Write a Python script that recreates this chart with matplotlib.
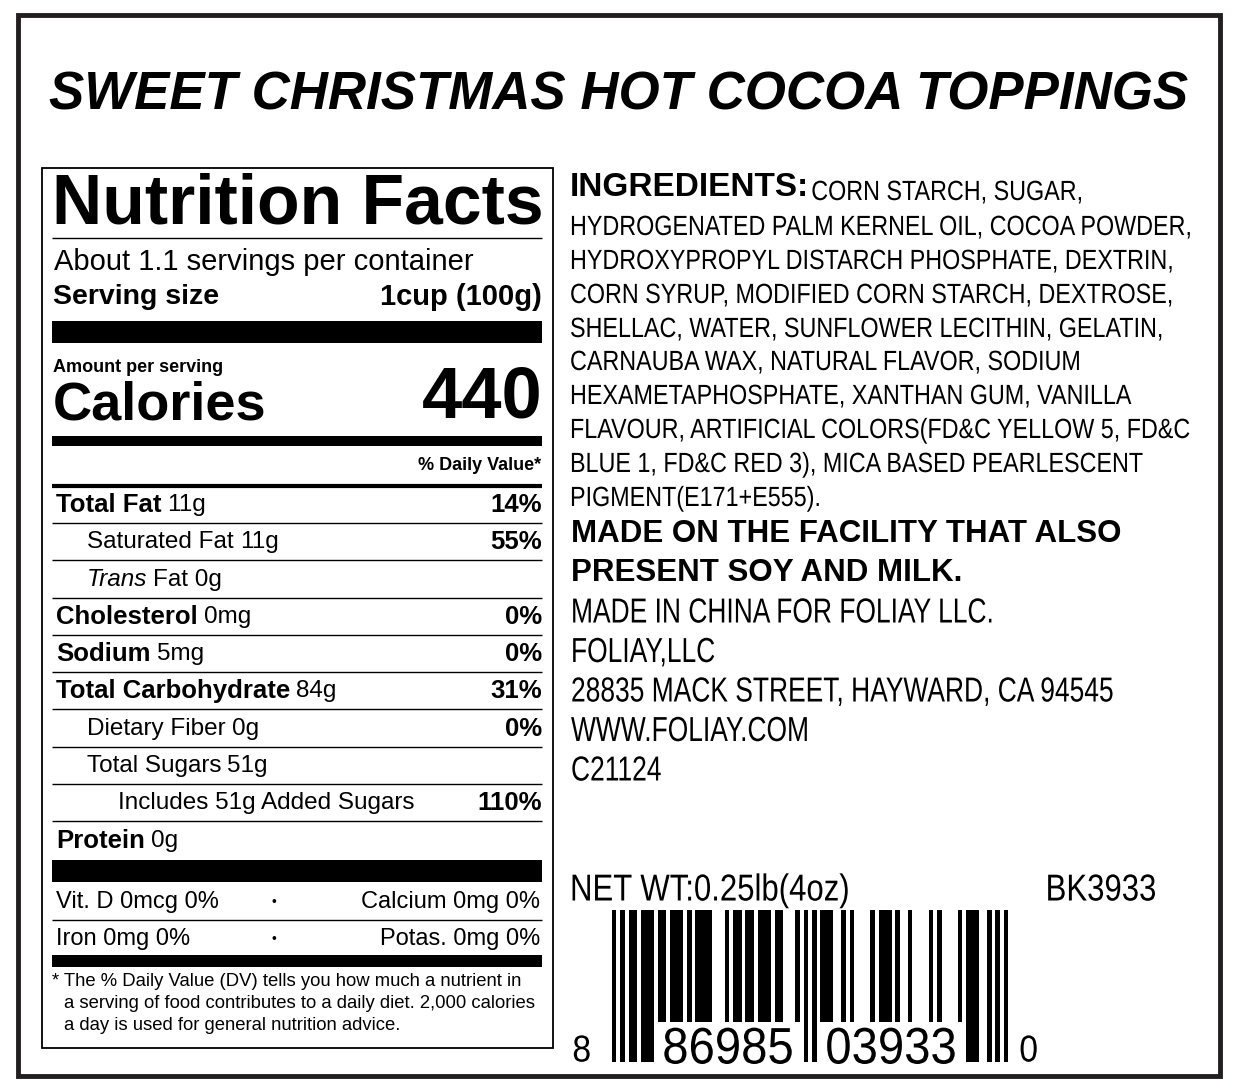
import matplotlib
matplotlib.use("Agg")
import matplotlib.pyplot as plt
from matplotlib.patches import Rectangle, PathPatch
from matplotlib.textpath import TextPath
from matplotlib.font_manager import FontProperties
from matplotlib.transforms import Affine2D

SANS = 'Liberation Sans'

title = "SWEET CHRISTMAS HOT COCOA TOPPINGS"
servings = "About 1.1 servings per container"
serving_size = "1cup (100g)"
calories = "440"
rows = [  # (name, amount, dv, indent, italic)
    ("Total Fat", "11g", "14%", 0, False),
    ("Saturated Fat", "11g", "55%", 1, False),
    ("Trans", "Fat 0g", "", 1, True),
    ("Cholesterol", "0mg", "0%", 0, False),
    ("Sodium", "5mg", "0%", 0, False),
    ("Total Carbohydrate", "84g", "31%", 0, False),
    ("Dietary Fiber", "0g", "0%", 1, False),
    ("Total Sugars", "51g", "", 1, False),
    ("Includes 51g Added Sugars", "", "110%", 2, False),
    ("Protein", "0g", "", 0, False),
]
vitamins = [("Vit. D 0mcg 0%", "Calcium 0mg 0%"), ("Iron 0mg 0%", "Potas. 0mg 0%")]
footnote = ["* The % Daily Value (DV) tells you how much a nutrient in",
            "a serving of food contributes to a daily diet. 2,000 calories",
            "a day is used for general nutrition advice."]
ingredients = ["CORN STARCH, SUGAR,",
               "HYDROGENATED PALM KERNEL OIL, COCOA POWDER,",
               "HYDROXYPROPYL DISTARCH PHOSPHATE, DEXTRIN,",
               "CORN SYRUP, MODIFIED CORN STARCH, DEXTROSE,",
               "SHELLAC, WATER, SUNFLOWER LECITHIN, GELATIN,",
               "CARNAUBA WAX, NATURAL FLAVOR, SODIUM",
               "HEXAMETAPHOSPHATE, XANTHAN GUM, VANILLA",
               "FLAVOUR, ARTIFICIAL COLORS(FD&C YELLOW 5, FD&C",
               "BLUE 1, FD&C RED 3), MICA BASED PEARLESCENT",
               "PIGMENT(E171+E555)."]
allergen = ["MADE ON THE FACILITY THAT ALSO", "PRESENT SOY AND MILK."]
address = ["MADE IN CHINA FOR FOLIAY LLC.", "FOLIAY,LLC",
           "28835 MACK STREET, HAYWARD, CA 94545", "WWW.FOLIAY.COM", "C21124"]
net_wt = "NET WT:0.25lb(4oz)"
code = "BK3933"
upc_digits = [8, 8, 6, 9, 8, 5, 0, 3, 9, 3, 3, 0]

fig = plt.figure(figsize=(12.42, 10.92), dpi=100)
ax = fig.add_axes([0, 0, 1, 1])
ax.set_xlim(0, 1242); ax.set_ylim(1092, 0); ax.axis('off')
K = '#000000'
fig.canvas.draw()
R = fig.canvas.get_renderer()

def fit(t, width):
    bb = t.get_window_extent(R)
    t.set_fontsize(t.get_fontsize() * width / bb.width)

def ntext(x, y, s, cap, sx, ha='left', weight='normal'):
    """Horizontally condensed text; y is the vertical centre of capitals, cap = cap height px."""
    size = cap / 0.72
    tp = TextPath((0, 0), s, size=size, prop=FontProperties(family=SANS, weight=weight))
    w = tp.get_extents().x1 * sx
    if ha == 'right':
        x = x - w
    elif ha == 'center':
        x = x - w / 2
    tr = Affine2D().scale(sx, -1).translate(x, y + cap / 2)
    ax.add_patch(PathPatch(tr.transform_path(tp), facecolor=K, edgecolor='none'))
    return x + w

def rect(x0, y0, x1, y1, fill=True, lw=1.5, c=K):
    ax.add_patch(Rectangle((x0, y0), x1 - x0, y1 - y0, fill=fill,
                           facecolor=c if fill else 'none', edgecolor=c, lw=0 if fill else lw))

def hl(y, x0=52, x1=542, lw=1.0):
    ax.plot([x0, x1], [y, y], color=K, lw=lw, solid_capstyle='butt')

rect(18, 15, 1220, 1076, fill=False, lw=3.5, c='#231f20')
t = ax.text(619, 96, title, ha='center', va='center', fontsize=40, fontweight='bold',
            fontstyle='italic', family=SANS)
fit(t, 1138)

rect(42, 168, 553, 1048, fill=False, lw=1.3)
t = ax.text(52, 205, "Nutrition Facts", ha='left', va='center', fontsize=50,
            fontweight='heavy', family=SANS)
fit(t, 491)
hl(238)
ax.text(54, 262, servings, va='center', fontsize=21, family=SANS)
ax.text(53, 297, "Serving size", va='center', fontsize=20.5, fontweight='bold', family=SANS)
ax.text(542, 297, serving_size, va='center', ha='right', fontsize=21, fontweight='bold', family=SANS)
rect(52, 321, 542, 343)
ax.text(53, 368, "Amount per serving", va='center', fontsize=13, fontweight='bold', family=SANS)
ax.text(53, 405, "Calories", va='center', fontsize=39, fontweight='bold', family=SANS)
ax.text(543, 399, calories, va='center', ha='right', fontsize=52, fontweight='bold', family=SANS)
rect(52, 436, 542, 446)
ax.text(541, 465, "% Daily Value*", va='center', ha='right', fontsize=13, fontweight='bold', family=SANS)
hl(486, lw=3)

y = 505
for i, (name, amt, dv, ind, ital) in enumerate(rows):
    x = 56 + ind * 31
    if ind == 0:
        t1 = ax.text(x, y, name, va='center', fontsize=18.5, fontweight='bold', family=SANS)
    else:
        t1 = ax.text(x, y, name, va='center', fontsize=17.5, family=SANS,
                     fontstyle='italic' if ital else 'normal')
    if amt:
        bb = t1.get_window_extent(R)
        ax.text(bb.x1 + 6, y, amt, va='center', fontsize=17.5, family=SANS)
    if dv:
        ax.text(542, y, dv, va='center', ha='right', fontsize=18.5, fontweight='bold', family=SANS)
    if i < len(rows) - 1:
        hl(y + 18)
    y += 37.3
rect(52, 860, 542, 882)
for j, (a, b) in enumerate(vitamins):
    yy = 902 + j * 37
    ax.text(56, yy, a, va='center', fontsize=17, family=SANS)
    ax.text(274, yy, "•", va='center', ha='center', fontsize=10, family=SANS)
    ax.text(540, yy, b, va='center', ha='right', fontsize=17, family=SANS)
hl(920)
rect(52, 955, 542, 967)
for j, line in enumerate(footnote):
    ax.text(52 if j == 0 else 64, 982 + j * 22, line, va='center', fontsize=13.3, family=SANS)

ti = ax.text(570, 188, "INGREDIENTS:", va='center', fontsize=22, fontweight='bold', family=SANS)
fit(ti, 238)
bx = ti.get_window_extent(R).x1
ing_y = [190, 225, 259, 293, 327, 360, 394, 428, 462, 496]
for j, line in enumerate(ingredients):
    xs = bx + 2 if j == 0 else 570
    ntext(xs, ing_y[j], line, 20, 0.84)
for j, line in enumerate(allergen):
    ax.text(571, 534 + j * 39, line, va='center', fontsize=22.5, fontweight='bold', family=SANS)
for j, line in enumerate(address):
    ntext(571, 610 + j * 39.5, line, 25, 0.76)
ntext(570, 887, net_wt, 27, 0.83)
ntext(1155, 887, code, 27, 0.83, ha='right')

# UPC-A barcode from digits
L = ['0001101', '0011001', '0010011', '0111101', '0100011',
     '0110001', '0101111', '0111011', '0110111', '0001011']
Rc = [''.join('1' if c == '0' else '0' for c in s) for s in L]
mods, longm = '101', [True] * 3
for k, d in enumerate(upc_digits[:6]):
    mods += L[d]; longm += [k == 0] * 7
mods += '01010'; longm += [True] * 5
for k, d in enumerate(upc_digits[6:]):
    mods += Rc[d]; longm += [k == 5] * 7
mods += '101'; longm += [True] * 3
x0, mw = 612, 396 / 95
for m, (b, lg) in enumerate(zip(mods, longm)):
    if b == '1':
        rect(x0 + m * mw, 910, x0 + (m + 1) * mw + 0.3, 1062 if lg else 1022)
ntext(581, 1048, str(upc_digits[0]), 27, 0.9, ha='center')
ntext(727, 1045, ''.join(map(str, upc_digits[1:6])), 37, 0.92, ha='center')
ntext(890, 1045, ''.join(map(str, upc_digits[6:11])), 37, 0.92, ha='center')
ntext(1028, 1048, str(upc_digits[11]), 27, 0.9, ha='center')

fig.savefig("out.png", dpi=100)
